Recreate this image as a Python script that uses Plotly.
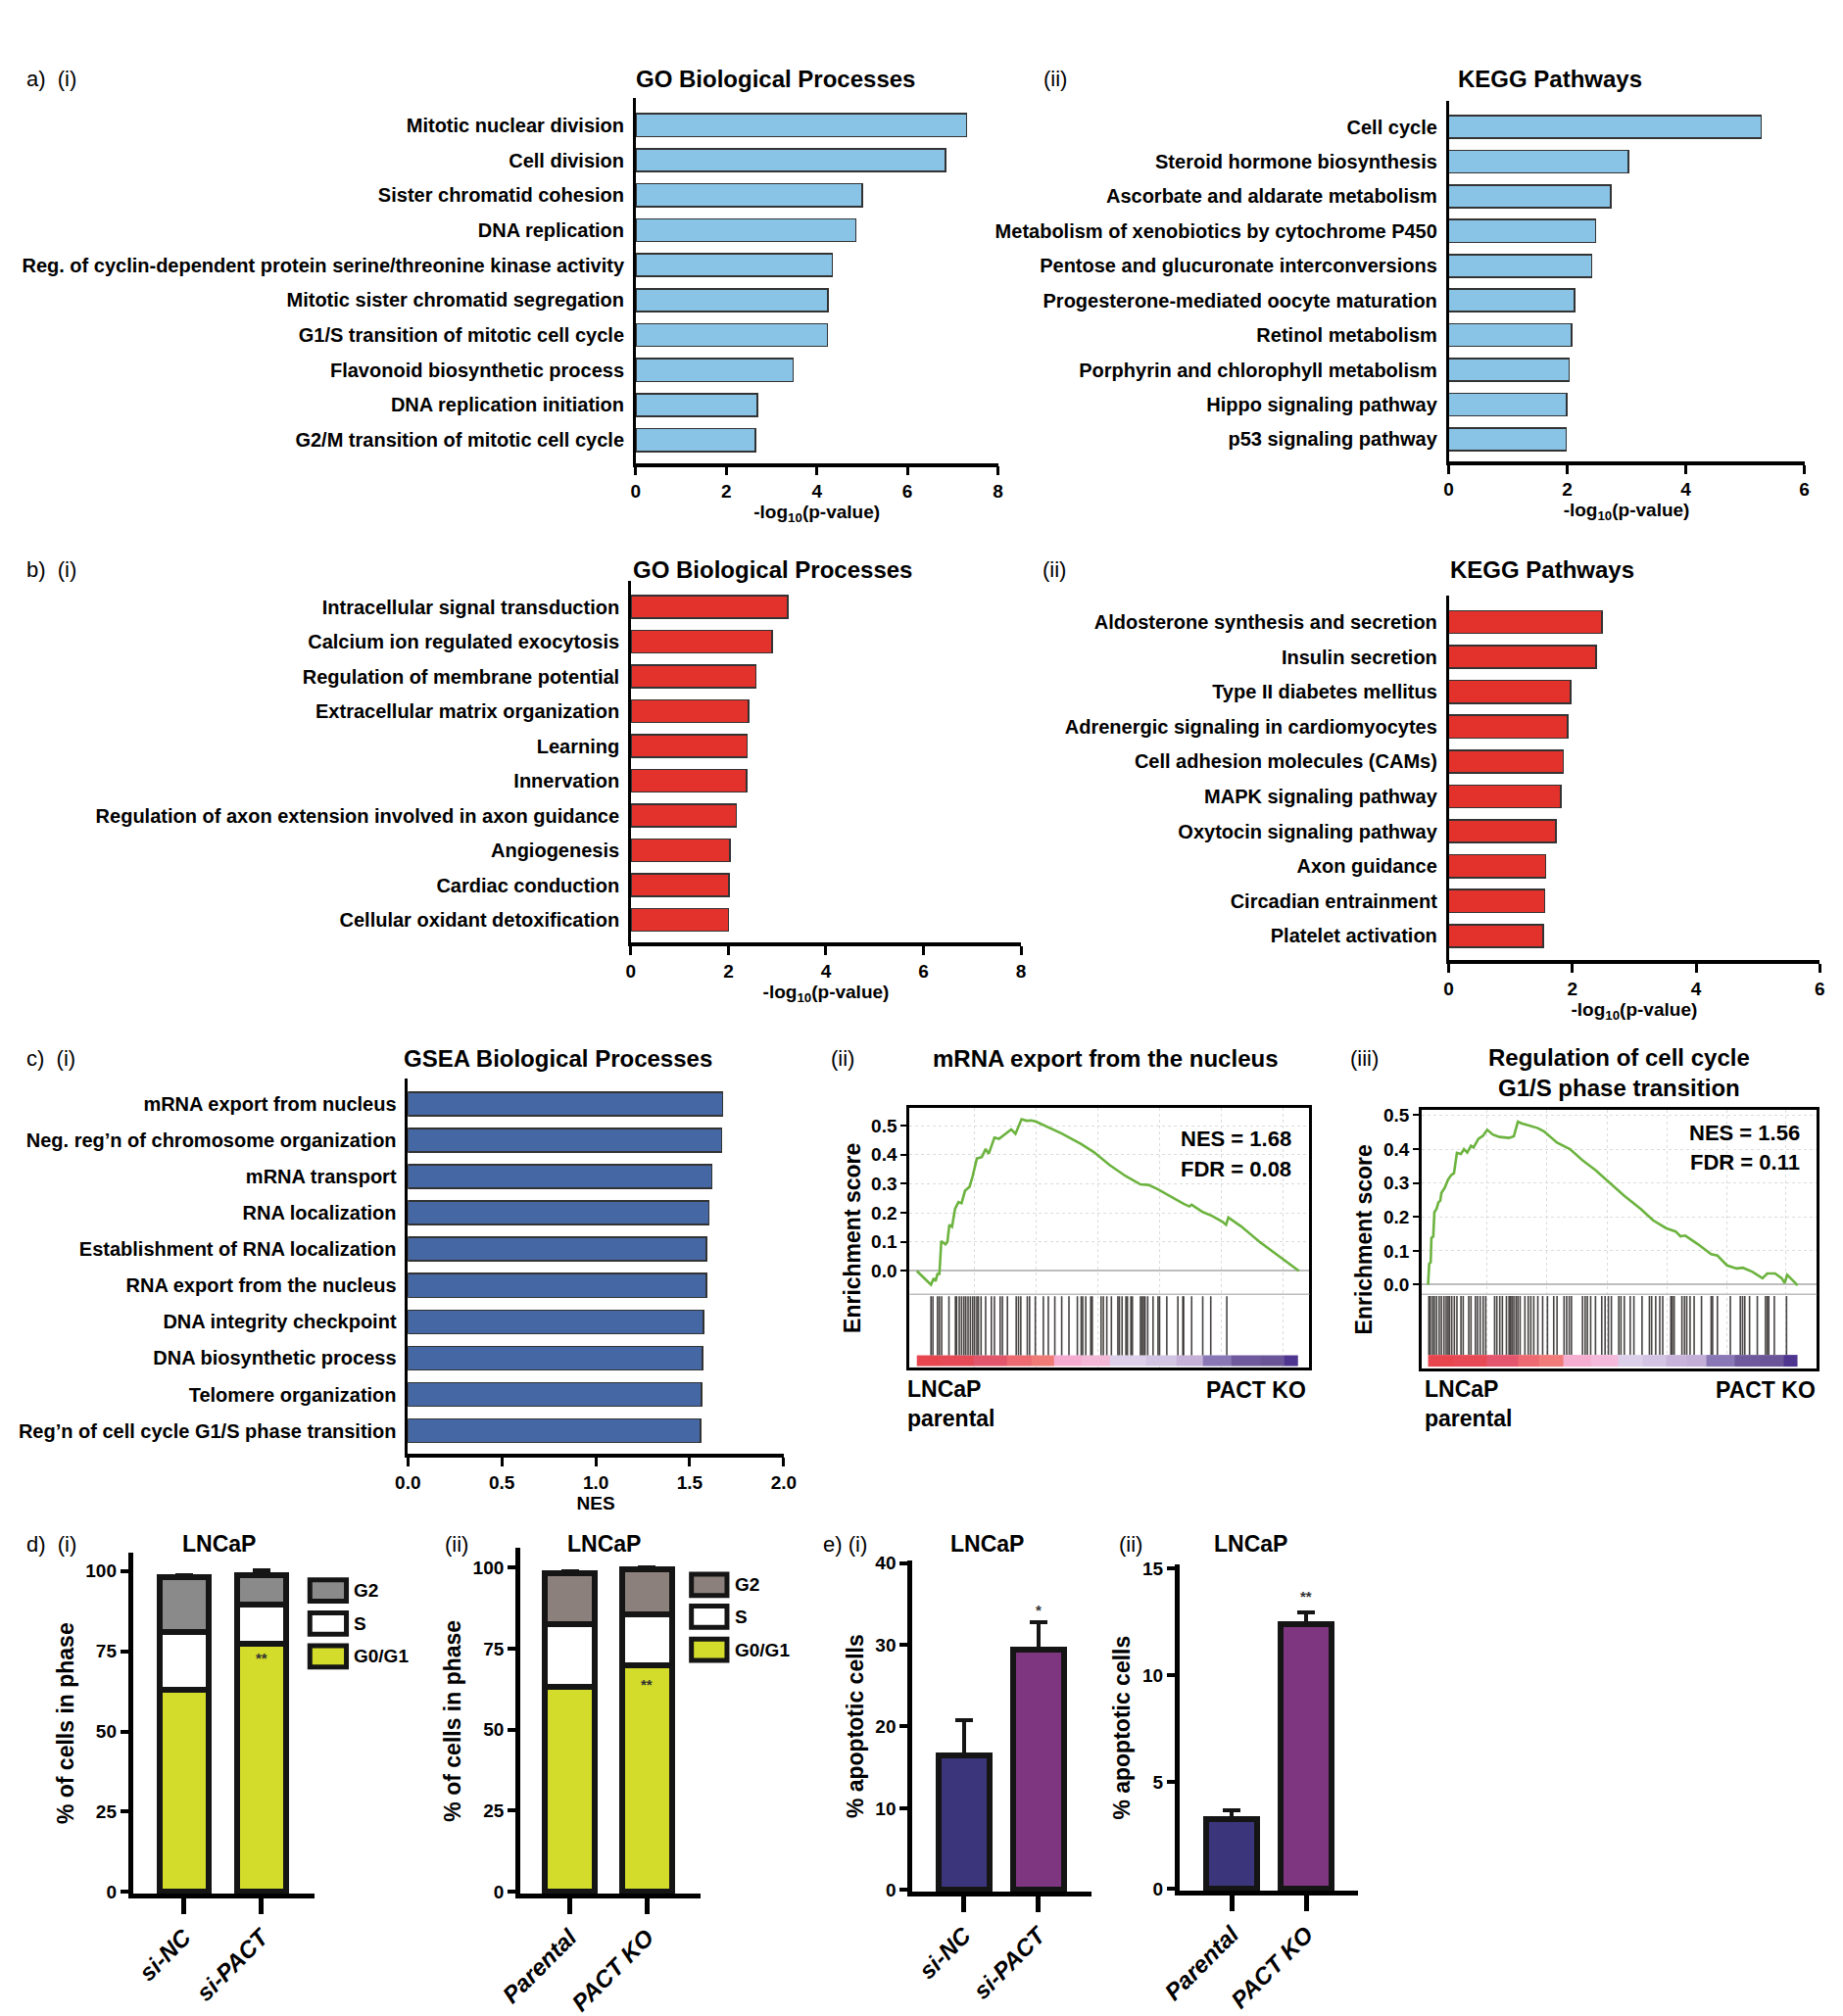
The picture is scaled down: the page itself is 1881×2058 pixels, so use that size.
import plotly.graph_objects as go

W, H = 1881, 2058
SANS = "Liberation Sans, Arial, Helvetica, sans-serif"

# ---------------- data ----------------
a1_terms = ["Mitotic nuclear division", "Cell division", "Sister chromatid cohesion", "DNA replication",
            "Reg. of cyclin-dependent protein serine/threonine kinase activity",
            "Mitotic sister chromatid segregation", "G1/S transition of mitotic cell cycle",
            "Flavonoid biosynthetic process", "DNA replication initiation",
            "G2/M transition of mitotic cell cycle"]
a1_vals = [7.31, 6.84, 5.00, 4.86, 4.34, 4.25, 4.23, 3.48, 2.69, 2.64]

a2_terms = ["Cell cycle", "Steroid hormone biosynthesis", "Ascorbate and aldarate metabolism",
            "Metabolism of xenobiotics by cytochrome P450", "Pentose and glucuronate interconversions",
            "Progesterone-mediated oocyte maturation", "Retinol metabolism",
            "Porphyrin and chlorophyll metabolism", "Hippo signaling pathway", "p53 signaling pathway"]
a2_vals = [5.27, 3.03, 2.73, 2.48, 2.41, 2.12, 2.07, 2.03, 1.99, 1.98]

b1_terms = ["Intracellular signal transduction", "Calcium ion regulated exocytosis",
            "Regulation of membrane potential", "Extracellular matrix organization", "Learning",
            "Innervation", "Regulation of axon extension involved in axon guidance", "Angiogenesis",
            "Cardiac conduction", "Cellular oxidant detoxification"]
b1_vals = [3.22, 2.90, 2.56, 2.41, 2.38, 2.37, 2.16, 2.03, 2.01, 2.00]

b2_terms = ["Aldosterone synthesis and secretion", "Insulin secretion", "Type II diabetes mellitus",
            "Adrenergic signaling in cardiomyocytes", "Cell adhesion molecules (CAMs)",
            "MAPK signaling pathway", "Oxytocin signaling pathway", "Axon guidance",
            "Circadian entrainment", "Platelet activation"]
b2_vals = [2.48, 2.38, 1.97, 1.92, 1.85, 1.81, 1.73, 1.57, 1.55, 1.53]

c1_terms = ["mRNA export from nucleus", "Neg. reg\u2019n of chromosome organization", "mRNA transport",
            "RNA localization", "Establishment of RNA localization", "RNA export from the nucleus",
            "DNA integrity checkpoint", "DNA biosynthetic process", "Telomere organization",
            "Reg\u2019n of cell cycle G1/S phase transition"]
c1_vals = [1.674, 1.669, 1.618, 1.602, 1.590, 1.589, 1.573, 1.567, 1.562, 1.557]

# GSEA (ii) mRNA export from the nucleus
g1_rank = [0, 37, 44, 49, 54, 59, 64, 75, 80, 85, 92, 100, 109, 117, 126, 138, 146, 157, 170, 180,
           188, 203, 215, 226, 236, 247, 258, 274, 287, 300, 312, 329, 379, 430, 463, 505, 547, 585,
           606, 631, 673, 698, 713, 719, 748, 773, 799, 809, 815, 849, 899, 950, 1000]
g1_es = [0.0, -0.047, -0.025, -0.035, -0.010, -0.010, 0.103, 0.092, 0.100, 0.159, 0.152, 0.214,
         0.237, 0.233, 0.276, 0.290, 0.326, 0.387, 0.392, 0.420, 0.403, 0.459, 0.455, 0.467, 0.475,
         0.487, 0.472, 0.522, 0.517, 0.518, 0.514, 0.503, 0.473, 0.437, 0.409, 0.364, 0.326, 0.298,
         0.296, 0.281, 0.248, 0.231, 0.222, 0.228, 0.203, 0.189, 0.170, 0.159, 0.184, 0.153, 0.098,
         0.048, 0.0]
g1_hits = [37, 42, 54, 59, 65, 84, 101, 104, 111, 117, 123, 128, 134, 140, 146, 151, 157, 161, 168,
           180, 195, 203, 218, 224, 237, 260, 266, 272, 289, 295, 310, 331, 344, 361, 379, 398, 420,
           430, 434, 442, 455, 459, 482, 488, 497, 509, 526, 530, 537, 547, 551, 560, 564, 585, 589,
           593, 597, 604, 618, 631, 635, 654, 683, 696, 698, 719, 748, 769, 811]
g1_edges = [0, 60, 148, 237, 300, 358, 430, 505, 600, 680, 748, 824, 900, 962, 996]
g1_cols = ["#e8464f", "#e64a56", "#e2566b", "#ec6a70", "#ef7a76", "#f5acd0", "#f3b8d6", "#ddd0ea",
           "#d2c4e3", "#c6b2d9", "#8a78b6", "#6e5a9c", "#6a5598", "#4e3590"]

# GSEA (iii) Regulation of cell cycle G1/S phase transition
g2_rank = [0, 3, 7, 9, 14, 17, 23, 28, 33, 36, 45, 54, 63, 70, 78, 89, 97, 106, 116, 123, 136, 149,
           160, 175, 193, 219, 232, 243, 253, 271, 297, 314, 349, 384, 418, 453, 488, 531, 575, 609,
           644, 670, 683, 696, 731, 766, 783, 809, 835, 852, 878, 905, 918, 939, 957, 965, 972, 987,
           1000]
g2_es = [0.0, 0.062, 0.066, 0.138, 0.142, 0.214, 0.224, 0.243, 0.248, 0.271, 0.286, 0.310, 0.324,
         0.329, 0.389, 0.386, 0.400, 0.390, 0.410, 0.405, 0.430, 0.440, 0.457, 0.443, 0.436, 0.433,
         0.438, 0.481, 0.476, 0.471, 0.462, 0.452, 0.419, 0.400, 0.367, 0.338, 0.305, 0.262, 0.224,
         0.190, 0.167, 0.157, 0.143, 0.145, 0.119, 0.090, 0.086, 0.057, 0.048, 0.050, 0.038, 0.019,
         0.033, 0.033, 0.019, 0.005, 0.029, 0.011, -0.002]
g2_hits = [2, 6, 12, 17, 23, 30, 36, 43, 49, 54, 58, 64, 71, 78, 89, 95, 110, 116, 128, 134, 141,
           149, 156, 180, 186, 194, 201, 212, 219, 223, 227, 232, 238, 243, 249, 262, 271, 278, 286,
           297, 310, 323, 340, 349, 368, 375, 382, 388, 418, 425, 431, 440, 453, 470, 479, 488, 496,
           516, 522, 531, 547, 557, 579, 599, 605, 616, 627, 635, 657, 661, 666, 687, 694, 700, 709,
           720, 740, 766, 770, 783, 818, 845, 851, 857, 870, 891, 913, 918, 922, 937, 970]
g2_edges = [0, 70, 158, 245, 300, 365, 440, 514, 580, 644, 700, 753, 831, 900, 963, 1000]
g2_cols = ["#e8464f", "#e84a55", "#e4566e", "#ee6a72", "#f07b78", "#f5aed0", "#f3badb", "#dccfea",
           "#d3c4e4", "#c8b4da", "#c3aed8", "#8a78b6", "#6e5a9c", "#6a5598", "#4e3590"]

# d) cell-cycle phases (%)
phases = ["G0/G1", "S", "G2"]
d1_groups = ["si-NC", "si-PACT"]
d1_vals = {"G0/G1": [63.0, 77.5], "S": [18.0, 12.0], "G2": [17.0, 9.3]}
d1_errs = {"G0/G1": [0.8, 1.5], "S": [1.5, 1.0], "G2": [0.6, 1.6]}
d2_groups = ["Parental", "PACT KO"]
d2_vals = {"G0/G1": [63.3, 69.8], "S": [19.2, 15.7], "G2": [15.8, 13.8]}
d2_errs = {"G0/G1": [0.8, 0.8], "S": [0.8, 0.7], "G2": [0.5, 0.8]}
d1_cols = {"G0/G1": "#d3dc2b", "S": "#ffffff", "G2": "#8a8a8a"}
d2_cols = {"G0/G1": "#d3dc2b", "S": "#ffffff", "G2": "#8b807b"}

# e) apoptosis (%)
e1_groups = ["si-NC", "si-PACT"]
e1_vals = [16.5, 29.4]
e1_errs = [4.3, 3.4]
e2_groups = ["Parental", "PACT KO"]
e2_vals = [3.25, 12.4]
e2_errs = [0.45, 0.55]
e_cols = ["#3b357b", "#7e3680"]

# ---------------- helpers ----------------
def dx(p0, p1):
    return [p0 / W, p1 / W]

def dy(top, bot):
    return [1 - bot / H, 1 - top / H]

def PX(x):
    return x / W

def PY(y):
    return 1 - y / H

fig = go.Figure()
lay = {}
ann = []
shapes = []

def font(size, bold=True, color="black"):
    return dict(family=SANS, size=size, color=color, weight="bold" if bold else "normal")

def text(x, y, s, size=22, bold=False, xanchor="center", yanchor="middle", **kw):
    ann.append(dict(x=PX(x), y=PY(y), xref="paper", yref="paper", text=s, showarrow=False,
                    xanchor=xanchor, yanchor=yanchor, font=font(size, bold), **kw))

def hbar(n, terms, vals, color, xdom, ydom, xmax, yr, tvals, xtitle, tfmt=None, lc="#333333"):
    xa, ya = f"x{n}", f"y{n}"
    fig.add_trace(go.Bar(x=vals, y=list(range(len(vals))), orientation="h", width=0.65,
                         marker=dict(color=color, line=dict(color=lc, width=1.6)),
                         xaxis=xa, yaxis=ya))
    xd = dict(domain=xdom, anchor=ya, range=[0, xmax], tickvals=tvals, ticks="outside",
              ticklen=9, tickwidth=2.5, tickcolor="black", showline=True, linewidth=3.5,
              linecolor="black", showgrid=False, zeroline=False, tickfont=font(19),
              title=dict(text=xtitle, font=font(19), standoff=2))
    if tfmt:
        xd["tickformat"] = tfmt
    lay[f"xaxis{n}"] = xd
    lay[f"yaxis{n}"] = dict(domain=ydom, anchor=xa, range=yr, tickvals=list(range(len(terms))),
                            ticktext=terms, showline=True, linewidth=2.5, linecolor="black",
                            ticks="", showgrid=False, zeroline=False, tickfont=font(20),
                            ticklabelstandoff=5)

LOGP = "-log<sub>10</sub>(p-value)"
hbar(1, a1_terms, a1_vals, "#89c4e6", dx(638, 1015), dy(93, 470), 8, [9.66, -0.78], [0, 2, 4, 6, 8], LOGP)
hbar(2, a2_terms, a2_vals, "#89c4e6", dx(1484, 1854), dy(96, 468), 6, [9.63, -0.75], [0, 2, 4, 6], LOGP)
hbar(3, b1_terms, b1_vals, "#e3312b", dx(633, 1039), dy(592, 965), 8, [9.65, -0.74], [0, 2, 4, 6, 8], LOGP)
hbar(4, b2_terms, b2_vals, "#e3312b", dx(1484, 1870), dy(607, 983), 6, [9.69, -0.75], [0, 2, 4, 6], LOGP)
hbar(5, c1_terms, c1_vals, "#4568a5", dx(401, 792), dy(1105, 1493), 2, [9.64, -0.71],
     [0, 0.5, 1, 1.5, 2], "NES", tfmt=".1f")

# ---------------- GSEA panels ----------------
def gsea(n, rank, es, hits, edges, cols, xdom, ydom, xr, yr, hit_top, hit_bot, cb_bot, sep, grid):
    xa, ya = f"x{n}", f"y{n}"
    ncol = len(cols)
    cs = [[i / (ncol - 1), c] for i, c in enumerate(cols)]
    fig.add_trace(go.Heatmap(x=edges, y=[cb_bot, hit_bot], z=[list(range(ncol))], colorscale=cs,
                             zmin=0, zmax=ncol - 1, showscale=False, xaxis=xa, yaxis=ya,
                             hoverinfo="skip"))
    hx, hy = [], []
    for h in hits:
        hx += [h, h, None]
        hy += [hit_top, hit_bot, None]
    fig.add_trace(go.Scatter(x=hx, y=hy, mode="lines", line=dict(color="rgba(40,35,35,0.85)", width=1.6),
                             xaxis=xa, yaxis=ya, hoverinfo="skip"))
    fig.add_trace(go.Scatter(x=rank, y=es, mode="lines", line=dict(color="#6cb33f", width=2.6),
                             xaxis=xa, yaxis=ya))
    lay[f"xaxis{n}"] = dict(domain=xdom, anchor=ya, range=xr, showline=True, mirror=True,
                            linewidth=3, linecolor="black", tickvals=grid, showticklabels=False,
                            ticks="", showgrid=True, gridcolor="#dcdcdc", griddash="dot",
                            gridwidth=1.2, zeroline=False)
    lay[f"yaxis{n}"] = dict(domain=ydom, anchor=xa, range=yr, tickvals=[0, 0.1, 0.2, 0.3, 0.4, 0.5],
                            tickformat=".1f", ticks="outside", ticklen=6, tickwidth=2,
                            tickcolor="black", showline=True, mirror=True, linewidth=3,
                            linecolor="black", showgrid=True, gridcolor="#dcdcdc", griddash="dot",
                            gridwidth=1.2, zeroline=True, zerolinecolor="#bdbdbd", zerolinewidth=1.5,
                            tickfont=font(19),
                            title=dict(text="Enrichment score", font=font(23), standoff=5))
    shapes.append(dict(type="line", xref=f"{xa} domain", yref=ya, x0=0, x1=1, y0=sep, y1=sep,
                       line=dict(color="#bdbdbd", width=1.5)))

gsea(6, g1_rank, g1_es, g1_hits, g1_edges, g1_cols, dx(923, 1339), dy(1136, 1404), [-19, 1027],
     [-0.333, 0.56], -0.087, -0.29, -0.328, -0.08, [151, 312, 474, 636, 797, 959])
gsea(7, g2_rank, g2_es, g2_hits, g2_edges, g2_cols, dx(1456, 1867), dy(1138, 1405), [-17, 1052],
     [-0.248, 0.515], -0.033, -0.207, -0.241, -0.028, [160, 321, 485, 648, 809, 969])

# ---------------- d) stacked bars ----------------
def cat_axis(n, groups, xdom, xr):
    return dict(domain=xdom, anchor=f"y{n}", range=xr, tickvals=[0, 1],
                ticktext=[f"<i>{g}</i>" for g in groups], tickangle=-45, ticks="outside",
                ticklen=16, tickwidth=4.5, tickcolor="black", showline=True, linewidth=5,
                linecolor="black", showgrid=False, zeroline=False, tickfont=font(24))

def val_axis(n, ydom, yr, tvals, title):
    return dict(domain=ydom, anchor=f"x{n}", range=yr, tickvals=tvals, ticks="outside", ticklen=8,
                tickwidth=4, tickcolor="black", showline=True, linewidth=5, linecolor="black",
                showgrid=False, zeroline=False, tickfont=font(19),
                title=dict(text=title, font=font(23), standoff=7))

def stacked(n, groups, vals, errs, cols, xdom, ydom, xr, yr):
    for ph in phases:
        fig.add_trace(go.Bar(x=[0, 1], y=vals[ph], width=0.64, name=ph,
                             marker=dict(color=cols[ph], line=dict(color="#151515", width=6)),
                             error_y=dict(type="data", array=errs[ph], arrayminus=[0, 0],
                                          symmetric=False, color="#151515", thickness=4, width=9),
                             xaxis=f"x{n}", yaxis=f"y{n}"))
    lay[f"xaxis{n}"] = cat_axis(n, groups, xdom, xr)
    lay[f"yaxis{n}"] = val_axis(n, ydom, yr, [0, 25, 50, 75, 100], "% of cells in phase")

stacked(8, d1_groups, d1_vals, d1_errs, d1_cols, dx(115, 304), dy(1595, 1947), [-0.66, 1.69], [-0.6, 105.7])
stacked(9, d2_groups, d2_vals, d2_errs, d2_cols, dx(518, 706), dy(1590, 1947), [-0.64, 1.70], [-0.6, 106])

def legend_boxes(x0, x1, xt, rows, cols):
    for ph, yc in zip(["G2", "S", "G0/G1"], rows):
        shapes.append(dict(type="rect", xref="paper", yref="paper", x0=PX(x0), x1=PX(x1),
                           y0=PY(yc + 11), y1=PY(yc - 11), fillcolor=cols[ph],
                           line=dict(color="#151515", width=5)))
        text(xt, yc, ph, size=19, bold=True, xanchor="left")

legend_boxes(299, 337, 343, [1634, 1668, 1702], d1_cols)
legend_boxes(696, 733, 739, [1628, 1661, 1695], d2_cols)

# ---------------- e) apoptosis bars ----------------
def simple(n, groups, vals, errs, xdom, ydom, xr, yr, tvals):
    fig.add_trace(go.Bar(x=[0, 1], y=vals, width=0.68,
                         marker=dict(color=e_cols, line=dict(color="#151515", width=6)),
                         error_y=dict(type="data", array=errs, arrayminus=[0, 0], symmetric=False,
                                      color="#151515", thickness=4, width=9),
                         xaxis=f"x{n}", yaxis=f"y{n}"))
    lay[f"xaxis{n}"] = cat_axis(n, groups, xdom, xr)
    lay[f"yaxis{n}"] = val_axis(n, ydom, yr, tvals, "% apoptotic cells")

simple(10, e1_groups, e1_vals, e1_errs, dx(926, 1112), dy(1603, 1945), [-0.69, 1.71], [-0.24, 40.3],
       [0, 10, 20, 30, 40])
simple(11, e2_groups, e2_vals, e2_errs, dx(1204, 1390), dy(1607, 1944), [-0.70, 1.70], [-0.09, 15.18],
       [0, 5, 10, 15])

# significance marks
for n, yv, s in [(8, 73.0, "**"), (9, 64.0, "**"), (10, 34.3, "*"), (11, 13.7, "**")]:
    ann.append(dict(x=1, y=yv, xref=f"x{n}", yref=f"y{n}", text=s, showarrow=False,
                    font=font(15, True, "#333333")))

# ---------------- titles / labels ----------------
text(2, 73, "a)  (i)", xanchor="left")
text(784, 73, "GO Biological Processes", size=24, bold=True)
text(1075, 73, "(ii)")
text(1589, 73, "KEGG Pathways", size=24, bold=True)
text(2, 580, "b)  (i)", xanchor="left")
text(780, 580, "GO Biological Processes", size=24, bold=True)
text(1074, 580, "(ii)")
text(1581, 580, "KEGG Pathways", size=24, bold=True)
text(2, 1085, "c)  (i)", xanchor="left")
text(557, 1085, "GSEA Biological Processes", size=24, bold=True)
text(853, 1085, "(ii)")
text(1127, 1085, "mRNA export from the nucleus", size=24, bold=True)
text(1396, 1085, "(iii)")
text(1661, 1099, "Regulation of cell cycle<br>G1/S phase transition", size=24, bold=True)
text(1322, 1168, "NES = 1.68", size=22, bold=True, xanchor="right")
text(1322, 1199, "FDR = 0.08", size=22, bold=True, xanchor="right")
text(1851, 1161, "NES = 1.56", size=22, bold=True, xanchor="right")
text(1851, 1192, "FDR = 0.11", size=22, bold=True, xanchor="right")
text(919, 1441, "LNCaP<br>parental", size=23, bold=True, xanchor="left", align="left")
text(1338, 1427, "PACT KO", size=23, bold=True, xanchor="right")
text(1457, 1441, "LNCaP<br>parental", size=23, bold=True, xanchor="left", align="left")
text(1868, 1427, "PACT KO", size=23, bold=True, xanchor="right")
text(2, 1586, "d)  (i)", xanchor="left")
text(204, 1586, "LNCaP", size=23, bold=True)
text(452, 1586, "(ii)")
text(605, 1586, "LNCaP", size=23, bold=True)
text(831, 1586, "e) (i)", xanchor="left")
text(1004, 1586, "LNCaP", size=23, bold=True)
text(1153, 1586, "(ii)")
text(1278, 1586, "LNCaP", size=23, bold=True)

fig.update_layout(width=W, height=H, margin=dict(l=0, r=0, t=0, b=0), paper_bgcolor="white",
                  plot_bgcolor="white", showlegend=False, barmode="stack", annotations=ann,
                  shapes=shapes, font=dict(family=SANS, color="black"), **lay)

POST = ("document.documentElement.style.margin='0';document.body.style.margin='0';"
        "document.body.style.padding='0';document.body.style.overflow='hidden';"
        "var d=document.getElementById('{plot_id}');d.style.position='absolute';"
        "d.style.left='0px';d.style.top='0px';")
fig.write_html("out.html", config={"displayModeBar": False}, post_script=POST)
